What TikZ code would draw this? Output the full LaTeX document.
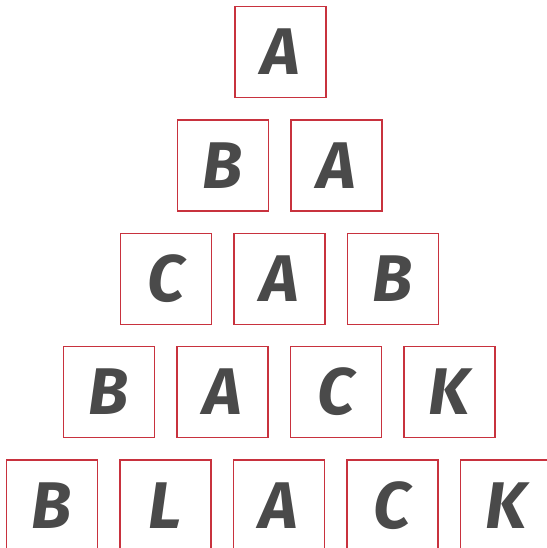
\documentclass[tikz,border=0pt]{standalone}
\usepackage{fontspec}
\usepackage{tikz}
\usetikzlibrary{positioning}
\newfontfamily\tilefont{Fira Sans}
\definecolor{tilered}{HTML}{C8323E}
\definecolor{letgray}{HTML}{4A4A4A}

\begin{document}
\begin{tikzpicture}[
  tile/.style={rectangle, draw=tilered, line width=1.3pt, minimum size=91pt, inner sep=0pt,
    font=\tilefont\bfseries\itshape\fontsize{66}{66}\selectfont, text=letgray},
  node distance=21.2pt
]
\useasboundingbox (0,0) rectangle (546pt,-548pt);

% row 1
\node[tile] (r1c1) at (280.5pt,-52pt) {A};
% row 2
\node[tile] (r2c1) at (223pt,-165.5pt) {B};
\node[tile, right=of r2c1] (r2c2) {A};
% row 3
\node[tile] (r3c1) at (166pt,-279pt) {C};
\node[tile, right=of r3c1] (r3c2) {A};
\node[tile, right=of r3c2] (r3c3) {B};
% row 4
\node[tile] (r4c1) at (109pt,-392pt) {B};
\node[tile, right=of r4c1] (r4c2) {A};
\node[tile, right=of r4c2] (r4c3) {C};
\node[tile, right=of r4c3] (r4c4) {K};
% row 5
\node[tile] (r5c1) at (52pt,-505.5pt) {B};
\node[tile, right=of r5c1] (r5c2) {L};
\node[tile, right=of r5c2] (r5c3) {A};
\node[tile, right=of r5c3] (r5c4) {C};
\node[tile, right=of r5c4] (r5c5) {K};
\end{tikzpicture}
\end{document}
